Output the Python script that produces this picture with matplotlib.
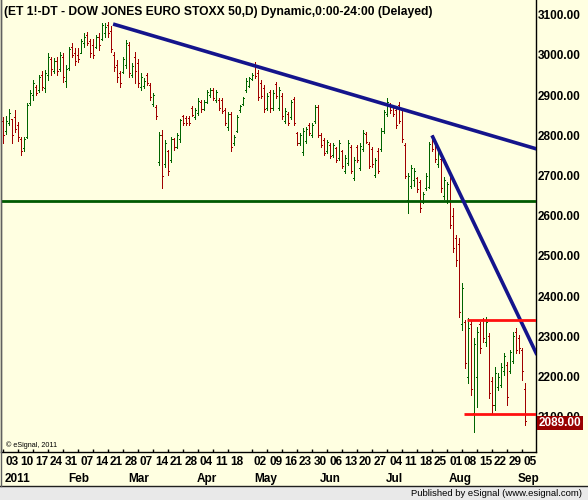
import matplotlib
matplotlib.use('Agg')
import matplotlib.pyplot as plt
import numpy as np
import pandas as pd
from matplotlib.patches import Rectangle
from matplotlib.lines import Line2D

# ---------------- data (daily OHLC) ----------------
opens = [2835, 2812, 2830, 2840, 2845, 2825, 2790, 2768, 2795, 2880,
         2900, 2920, 2912, 2950, 2918, 2950, 2990, 2960, 2985, 2965,
         2995, 2935, 2968, 3020, 3005, 3000, 3005, 3030, 3050, 3035,
         3025, 3020, 3045, 3040, 3055, 3075, 3060, 3000, 2975, 2955,
         2958, 2975, 3025, 2950, 2995, 2980, 2920, 2922, 2950, 2925,
         2878, 2870, 2735, 2800, 2730, 2760, 2740, 2790, 2772, 2790,
         2848, 2843, 2844, 2868, 2845, 2855, 2884, 2866, 2884, 2900,
         2914, 2888, 2888, 2888, 2862, 2820, 2852, 2780, 2812, 2862,
         2878, 2912, 2924, 2940, 2975, 2955, 2930, 2918, 2868, 2908,
         2868, 2928, 2868, 2898, 2835, 2854, 2846, 2890, 2805, 2780,
         2758, 2785, 2826, 2802, 2835, 2870, 2800, 2788, 2760, 2776,
         2752, 2768, 2744, 2760, 2712, 2732, 2770, 2695, 2770, 2720,
         2766, 2804, 2778, 2766, 2702, 2762, 2766, 2810, 2852, 2878,
         2870, 2862, 2876, 2862, 2775, 2640, 2674, 2690, 2694, 2684,
         2634, 2668, 2672, 2798, 2784, 2728, 2742, 2648, 2636, 2705,
         2600, 2545, 2530, 2330, 2335, 2200, 2330, 2110, 2200, 2330,
         2340, 2285, 2300, 2190, 2130, 2175, 2180, 2215, 2230, 2215,
         2240, 2310, 2295, 2265, 2170]
highs = [2845, 2847, 2865, 2842, 2863, 2834, 2797, 2797, 2880, 2913,
         2938, 2925, 2950, 2959, 2963, 3004, 2996, 2992, 2996, 3008,
         3004, 2975, 3021, 3029, 3017, 3017, 3041, 3054, 3058, 3041,
         3041, 3050, 3054, 3079, 3079, 3083, 3071, 3008, 2988, 2959,
         2996, 3037, 3033, 2979, 3008, 2990, 2954, 2942, 2954, 2930,
         2905, 2876, 2809, 2813, 2789, 2764, 2797, 2793, 2805, 2842,
         2851, 2847, 2847, 2872, 2867, 2892, 2888, 2888, 2913, 2917,
         2917, 2913, 2892, 2892, 2867, 2859, 2859, 2801, 2851, 2876,
         2896, 2942, 2946, 2954, 2983, 2963, 2938, 2925, 2905, 2913,
         2913, 2934, 2921, 2905, 2867, 2859, 2888, 2896, 2809, 2805,
         2818, 2822, 2830, 2830, 2876, 2876, 2805, 2793, 2789, 2780,
         2780, 2772, 2789, 2764, 2751, 2789, 2776, 2747, 2776, 2780,
         2813, 2809, 2784, 2772, 2743, 2768, 2818, 2863, 2892, 2880,
         2873, 2867, 2884, 2867, 2780, 2706, 2726, 2718, 2697, 2689,
         2660, 2706, 2784, 2801, 2789, 2768, 2747, 2697, 2685, 2710,
         2619, 2552, 2544, 2432, 2341, 2345, 2341, 2295, 2324, 2336,
         2345, 2349, 2308, 2200, 2225, 2208, 2233, 2258, 2237, 2266,
         2312, 2320, 2303, 2270, 2183]
lows = [2782, 2803, 2826, 2782, 2809, 2785, 2750, 2760, 2793, 2876,
        2888, 2901, 2909, 2913, 2909, 2938, 2950, 2954, 2950, 2959,
        2934, 2920, 2963, 2996, 2975, 2983, 3004, 3021, 3025, 2996,
        2992, 3017, 3013, 3037, 3046, 3046, 3008, 2959, 2934, 2921,
        2954, 2967, 2946, 2946, 2930, 2921, 2913, 2917, 2925, 2888,
        2872, 2842, 2726, 2668, 2722, 2702, 2735, 2764, 2768, 2784,
        2826, 2826, 2826, 2847, 2842, 2851, 2859, 2863, 2880, 2896,
        2888, 2884, 2863, 2855, 2826, 2814, 2760, 2776, 2809, 2859,
        2876, 2909, 2921, 2938, 2942, 2888, 2892, 2859, 2863, 2859,
        2863, 2892, 2863, 2842, 2830, 2826, 2842, 2826, 2776, 2776,
        2751, 2780, 2801, 2797, 2830, 2797, 2772, 2751, 2755, 2743,
        2747, 2735, 2739, 2718, 2706, 2726, 2706, 2689, 2735, 2714,
        2760, 2780, 2718, 2722, 2697, 2706, 2760, 2805, 2847, 2855,
        2847, 2818, 2830, 2784, 2693, 2606, 2668, 2673, 2660, 2610,
        2631, 2664, 2668, 2760, 2735, 2722, 2660, 2643, 2631, 2569,
        2511, 2474, 2349, 2316, 2221, 2183, 2154, 2063, 2125, 2258,
        2287, 2275, 2146, 2109, 2117, 2167, 2175, 2204, 2129, 2208,
        2233, 2258, 2258, 2192, 2080]
closes = [2800, 2836, 2855, 2800, 2815, 2795, 2760, 2790, 2875, 2905,
          2930, 2905, 2945, 2920, 2955, 2995, 2965, 2985, 2960, 3000,
          2945, 2965, 3015, 3000, 2985, 2990, 3035, 3045, 3030, 3005,
          3000, 3045, 3025, 3075, 3070, 3055, 3015, 2970, 2945, 2930,
          2990, 3030, 2955, 2972, 2960, 2930, 2945, 2936, 2930, 2895,
          2900, 2848, 2800, 2700, 2780, 2712, 2790, 2770, 2800, 2838,
          2830, 2832, 2830, 2850, 2862, 2886, 2865, 2884, 2908, 2912,
          2893, 2908, 2868, 2860, 2832, 2852, 2770, 2796, 2846, 2872,
          2892, 2936, 2942, 2950, 2948, 2895, 2898, 2866, 2898, 2868,
          2906, 2898, 2914, 2848, 2860, 2830, 2882, 2832, 2780, 2800,
          2812, 2816, 2806, 2825, 2870, 2802, 2776, 2756, 2784, 2748,
          2775, 2740, 2782, 2724, 2745, 2782, 2712, 2740, 2740, 2774,
          2806, 2784, 2724, 2728, 2738, 2712, 2812, 2858, 2884, 2862,
          2852, 2826, 2836, 2790, 2700, 2700, 2720, 2712, 2666, 2620,
          2655, 2700, 2778, 2765, 2742, 2762, 2668, 2690, 2680, 2578,
          2520, 2490, 2360, 2420, 2235, 2320, 2170, 2280, 2310, 2270,
          2295, 2335, 2160, 2130, 2210, 2200, 2225, 2250, 2150, 2260,
          2300, 2265, 2270, 2215, 2089]

holidays = ['2011-04-22', '2011-04-25']
price_ticks = [2100, 2200, 2300, 2400, 2500, 2600, 2700, 2800, 2900, 3000, 3100]
last_price = 2089.00

# drawn studies (trend lines / levels), in (bar index, price)
trend_down_x = [36.7, 178.0]
trend_down_y = [3077, 2766]
trend_steep_x = [143.0, 178.0]
trend_steep_y = [2800, 2254]
support_level = 2637
range_top_x = [154.7, 178.0]
range_top = 2342
range_bot_x = [153.7, 178.0]
range_bot = 2106

title = "(ET 1!-DT - DOW JONES EURO STOXX 50,D) Dynamic,0:00-24:00 (Delayed)"

# ---------------- figure ----------------
W, H = 588, 500
BG = '#FFFFE1'
fig = plt.figure(figsize=(W / 100, H / 100), dpi=100, facecolor=BG)

def fx(x):
    return x / W

def fy(y):
    return 1 - y / H

ax_left, ax_right, ax_top, ax_bot = 1, 536, 0, 452
ax = fig.add_axes([fx(ax_left), fy(ax_bot), (ax_right - ax_left) / W, (ax_bot - ax_top) / H])
ax.set_facecolor(BG)

n = len(closes)
xi = np.arange(n)
o = np.array(opens); h = np.array(highs); l = np.array(lows); c = np.array(closes)
cols = np.where(c >= o, '#006400', '#A00000')

px = 72 / 100  # 1 pixel in points
ax.vlines(xi, l, h, colors=cols, lw=px, antialiased=False, zorder=2)
ax.hlines(o, xi - 0.34, xi, colors=cols, lw=px, antialiased=False, zorder=2)
ax.hlines(c, xi, xi + 0.34, colors=cols, lw=px, antialiased=False, zorder=2)

# studies
ax.axhline(support_level, color='#005A00', lw=2.0, zorder=3)
ax.plot(trend_down_x, trend_down_y, color='#14148C', lw=2.6, solid_capstyle='butt', zorder=4)
ax.plot(trend_steep_x, trend_steep_y, color='#14148C', lw=2.6, solid_capstyle='butt', zorder=4)
ax.plot(range_top_x, [range_top, range_top], color='#FF1010', lw=2.0, solid_capstyle='butt', zorder=4)
ax.plot(range_bot_x, [range_bot, range_bot], color='#FF1010', lw=2.0, solid_capstyle='butt', zorder=4)

ax.set_xlim((ax_left - 3) / 3, (ax_right - 3) / 3)
ax.set_ylim(2012.4, 3136.8)

for s in ['top']:
    ax.spines[s].set_visible(False)
ax.spines['left'].set_color('#606060')
ax.spines['left'].set_linewidth(1.0)
ax.spines['right'].set_color('black')
ax.spines['right'].set_linewidth(1.0)
ax.spines['bottom'].set_color('black')
ax.spines['bottom'].set_linewidth(1.0)

NARROW = ['Liberation Sans Narrow', 'Liberation Sans', 'DejaVu Sans']

# y axis on right
ax.yaxis.tick_right()
ax.set_yticks(price_ticks)
ax.set_yticklabels([f'{p:.2f}' for p in price_ticks])
ax.tick_params(axis='y', length=0, pad=1)

# x axis: week ticks
dates = pd.bdate_range('2011-01-03', '2011-09-06')
dates = dates[~dates.isin(pd.to_datetime(holidays))]
week_idx = [i for i, d in enumerate(dates) if d.weekday() == 0]
week_lab = [dates[i].strftime('%d') for i in week_idx]
month_idx = [i for i, d in enumerate(dates) if i == 0 or d.month != dates[i - 1].month]
month_lab = ['2011' if dates[i].month == 1 else dates[i].strftime('%b') for i in month_idx]
ax.set_xticks(week_idx)
ax.set_xticklabels([])
ax.tick_params(axis='x', direction='in', length=2, width=1, color='black')

fig.canvas.draw()
renderer = fig.canvas.get_renderer()

def fit(t, target):
    bb = t.get_window_extent(renderer)
    t.set_fontsize(t.get_fontsize() * target / bb.width)

# size for axis text: "3100.00" ~ 43 px wide
probe = fig.text(0, 0, '3100.00', family=NARROW, weight='bold', fontsize=10)
fit(probe, 43)
axis_fs = probe.get_fontsize()
probe.remove()

for lab in ax.get_yticklabels():
    lab.set_family(NARROW)
    lab.set_weight('bold')
    lab.set_fontsize(axis_fs)
    lab.set_color('black')

xtr = ax.get_xaxis_transform()
for i, s in zip(week_idx, week_lab):
    fig.text(fx(3 + 3 * i + 2), fy(465), s, family=NARROW, weight='bold',
             fontsize=axis_fs, ha='left', va='baseline', color='black')
for i, s in zip(month_idx, month_lab):
    fig.text(fx(3 + 3 * i + 2), fy(482), s, family=NARROW, weight='bold',
             fontsize=axis_fs, ha='left', va='baseline', color='black')

# title
t = fig.text(fx(4), fy(15), title, family=NARROW, weight='bold', fontsize=10,
             ha='left', va='baseline', color='black')
fit(t, 429)

# copyright
cp = fig.text(fx(6), fy(447), '\u00a9 eSignal, 2011', family=['Liberation Sans', 'DejaVu Sans'],
              fontsize=6, ha='left', va='baseline', color='black')
fit(cp, 52)

# last price box
fig.patches.append(Rectangle((fx(537), fy(430)), (583 - 537) / W, 14 / H,
                             transform=fig.transFigure, facecolor='#990000',
                             edgecolor='none', zorder=5))
fig.text(fx(560), fy(423), f'{last_price:.2f}', family=NARROW, weight='bold',
         fontsize=axis_fs, ha='center', va='center', color='white', zorder=6)

# bottom strip
fig.patches.append(Rectangle((0, 0), 1, 14 / H, transform=fig.transFigure,
                             facecolor='#E9E9E9', edgecolor='none', zorder=1))
fig.lines.append(Line2D([0, 1], [fy(486), fy(486)], transform=fig.transFigure,
                        color='#202020', lw=1.0))
fig.lines.append(Line2D([fx(0.5), fx(0.5)], [fy(486), 1], transform=fig.transFigure,
                        color='#606060', lw=1.0))
pb = fig.text(fx(582), fy(496), 'Published by eSignal (www.esignal.com)',
              family=['Liberation Sans', 'DejaVu Sans'], fontsize=7,
              ha='right', va='baseline', color='black')
fit(pb, 170)

fig.savefig('out.png', dpi=100, facecolor=BG)
